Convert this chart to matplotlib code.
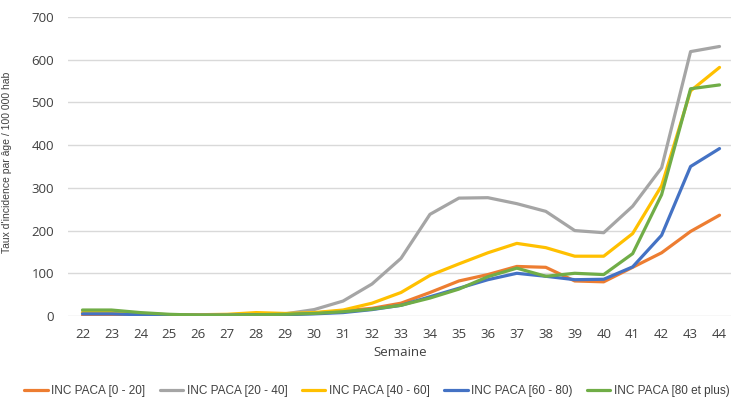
import numpy as np
import matplotlib.pyplot as plt

plt.rcParams['font.family'] = ['Open Sans', 'DejaVu Sans']

semaines = list(range(22, 45))
labels = ['INC PACA [0 - 20]', 'INC PACA [20 - 40]', 'INC PACA [40 - 60]',
          'INC PACA [60 - 80)', 'INC PACA [80 et plus)']

inc_0_20 = [0, 0, 1, 1, 1, 2, 3, 4, 7, 12, 18, 30, 55, 82, 97, 116, 114, 82, 80, 114, 148, 198, 236]
inc_20_40 = [8, 8, 5, 3, 3, 3, 5, 5, 15, 35, 75, 135, 238, 276, 277, 263, 245, 200, 195, 257, 347, 619, 631]
inc_40_60 = [8, 8, 5, 3, 3, 4, 8, 6, 8, 14, 30, 55, 95, 122, 148, 170, 160, 140, 140, 193, 305, 527, 582]
inc_60_80 = [5, 5, 3, 2, 2, 2, 3, 3, 5, 8, 15, 25, 45, 65, 85, 100, 93, 85, 86, 115, 189, 350, 392]
inc_80_plus = [14, 14, 8, 4, 2, 2, 3, 4, 6, 10, 16, 25, 42, 63, 92, 112, 93, 100, 97, 146, 284, 532, 541]

series = [inc_0_20, inc_20_40, inc_40_60, inc_60_80, inc_80_plus]
couleurs = ['#ED7D31', '#A5A5A5', '#FFC000', '#4472C4', '#70AD47']

fig = plt.figure(figsize=(7.31, 4.05), dpi=100)
ax = fig.add_axes([68 / 731, 1 - 316 / 405, 666 / 731, (316 - 17) / 405])

for y, c, lab in zip(series, couleurs, labels):
    ax.plot(semaines, y, color=c, lw=2.3, label=lab, solid_capstyle='round')

ax.set_xlim(21.5, 44.5)
ax.set_ylim(0, 700)
ax.set_xticks(semaines)
ax.set_yticks(range(0, 701, 100))
ax.grid(axis='y', color='#D9D9D9', lw=1)
ax.set_axisbelow(True)
for s in ax.spines.values():
    s.set_visible(False)
ax.tick_params(length=0, labelsize=9.5, colors='#404040')
ax.tick_params(axis='x', pad=9)
ax.tick_params(axis='y', pad=10)

fig.text(400 / 731, 1 - 353 / 405, 'Semaine', ha='center', va='center',
         fontsize=9.5, color='#404040')
fig.text(7 / 731, 1 - 162 / 405, "Taux d'incidence par âge / 100 000 hab",
         rotation=90, ha='center', va='center', fontsize=7.5, color='#404040',
         family=['Liberation Sans', 'DejaVu Sans'])

fig.legend(loc='center', bbox_to_anchor=(377 / 731, 1 - 391 / 405), ncol=5,
           frameon=False, handlelength=2.0, columnspacing=1.2,
           handletextpad=0.3, labelcolor='#404040',
           prop={'family': ['Liberation Sans', 'DejaVu Sans'], 'size': 8.5})

fig.savefig('out.png', dpi=100)
